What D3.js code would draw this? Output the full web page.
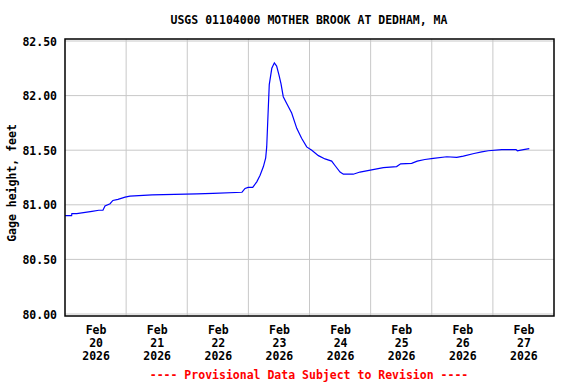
<!DOCTYPE html>
<html>
<head>
<meta charset="utf-8">
<script src="https://cdn.jsdelivr.net/npm/d3@7.9.0/dist/d3.min.js"></script>
<style>
  html, body { margin: 0; padding: 0; background: #ffffff; }
  svg { display: block; }
  text { font-family: "DejaVu Sans Mono", monospace; font-weight: bold; font-size: 11.5px; }
</style>
</head>
<body>
<div id="chart"></div>
<script>
const title = "USGS 01104000 MOTHER BROOK AT DEDHAM, MA";
const yLabel = "Gage height, feet";
const footer = "---- Provisional Data Subject to Revision ----";

// hours after Feb 20 2026 00:00 and gage height (ft)
const hours = [
  0, 2.6, 2.7, 4.6, 10.6, 13.3, 14.9, 15.7, 17.7, 18.8, 20.8, 23.6, 25.5, 34.2,
  51.8, 58.1, 69.5, 70.7, 71.9, 73.7, 75.3, 76.6, 77.9, 78.8, 79.2, 79.6, 80.2,
  81.2, 82.2, 83.1, 84.0, 84.8, 85.7, 87.0, 89.0, 91.0, 92.9, 94.9, 96.9, 99.5,
  102.1, 104.7, 106.0, 108.0, 109.3, 113.2, 115.8, 120.4, 125.0, 130.2, 131.8,
  136.1, 138.3, 141.3, 144.6, 149.9, 153.8, 156.4, 160.6, 163.6, 166.2, 171.5,
  177.1, 177.6, 180.0, 182.3
];
const gage = [
  80.90, 80.90, 80.92, 80.92, 80.94, 80.95, 80.95, 80.99, 81.01, 81.04, 81.05, 81.07, 81.08, 81.09,
  81.10, 81.105, 81.115, 81.15, 81.16, 81.16, 81.21, 81.27, 81.35, 81.43, 81.53, 81.76, 82.10,
  82.25, 82.30, 82.27, 82.19, 82.11, 81.99, 81.93, 81.84, 81.70, 81.61, 81.53, 81.50, 81.45,
  81.42, 81.40, 81.36, 81.30, 81.28, 81.28, 81.30, 81.32, 81.34, 81.35, 81.375,
  81.38, 81.40, 81.415, 81.425, 81.44, 81.435, 81.445, 81.47, 81.485, 81.495, 81.505,
  81.505, 81.495, 81.505, 81.515
];
const yTicks = [80.00, 80.50, 81.00, 81.50, 82.00, 82.50];
const dayLabels = ["20", "21", "22", "23", "24", "25", "26", "27"];

const width = 576, height = 384;
const plotLeft = 65, plotRight = 554, plotTop = 39, plotBottom = 316;

const start = new Date(2026, 1, 20);
const end = new Date(2026, 1, 28);
const data = hours.map((h, i) => ({ t: new Date(start.getTime() + h * 3600e3), v: gage[i] }));

const x = d3.scaleTime().domain([start, end]).range([plotLeft, plotRight]);
const y = d3.scaleLinear().domain([80, 82.5]).range([314, 41]);

const svg = d3.select("#chart").append("svg")
  .attr("width", width)
  .attr("height", height);

// grid
const midnights = d3.timeDay.range(d3.timeDay.offset(start, 1), end);
svg.append("g")
  .selectAll("line")
  .data(midnights)
  .join("line")
  .attr("x1", d => x(d)).attr("x2", d => x(d))
  .attr("y1", plotTop).attr("y2", plotBottom)
  .attr("stroke", "#c8c8c8")
  .attr("stroke-width", 1);

svg.append("g")
  .selectAll("line")
  .data(yTicks)
  .join("line")
  .attr("x1", plotLeft).attr("x2", plotRight)
  .attr("y1", d => y(d)).attr("y2", d => y(d))
  .attr("stroke", "#c8c8c8")
  .attr("stroke-width", 1);

// y axis labels
const yAxis = svg.append("g")
  .attr("transform", `translate(${plotLeft},0)`)
  .call(d3.axisLeft(y).tickValues(yTicks).tickFormat(d3.format(".2f")).tickSize(0).tickPadding(8));
yAxis.select(".domain").remove();
yAxis.selectAll("text")
  .attr("fill", "#000")
  .attr("dy", "0.35em")
  .style("font-family", "DejaVu Sans Mono, monospace")
  .style("font-size", "11.5px")
  .style("font-weight", "bold");

// x axis labels at noon
const noons = d3.timeDay.range(start, end).map(d => d3.timeHour.offset(d, 12));
const xAxis = svg.append("g")
  .attr("transform", `translate(0,${plotBottom})`)
  .call(d3.axisBottom(x).tickValues(noons).tickSize(0).tickFormat(""));
xAxis.select(".domain").remove();
xAxis.selectAll(".tick").each(function (d, i) {
  const t = d3.select(this).append("text")
    .attr("fill", "#000")
    .attr("text-anchor", "middle");
  ["Feb", dayLabels[i], "2026"].forEach((s, k) => {
    t.append("tspan").attr("x", 0).attr("y", 18 + k * 13).text(s);
  });
});

// data line
svg.append("path")
  .datum(data)
  .attr("fill", "none")
  .attr("stroke", "#0000ff")
  .attr("stroke-width", 1.2)
  .attr("d", d3.line().x(d => x(d.t)).y(d => y(d.v)));

// frame
svg.append("rect")
  .attr("x", plotLeft).attr("y", plotTop)
  .attr("width", plotRight - plotLeft).attr("height", plotBottom - plotTop)
  .attr("fill", "none")
  .attr("stroke", "#000")
  .attr("stroke-width", 1.5);

svg.append("text")
  .attr("x", 309).attr("y", 24)
  .attr("text-anchor", "middle")
  .text(title);

svg.append("text")
  .attr("transform", "translate(16,183) rotate(-90)")
  .attr("text-anchor", "middle")
  .text(yLabel);

svg.append("text")
  .attr("x", 309).attr("y", 379)
  .attr("text-anchor", "middle")
  .attr("fill", "#ff0000")
  .text(footer);
</script>
</body>
</html>
